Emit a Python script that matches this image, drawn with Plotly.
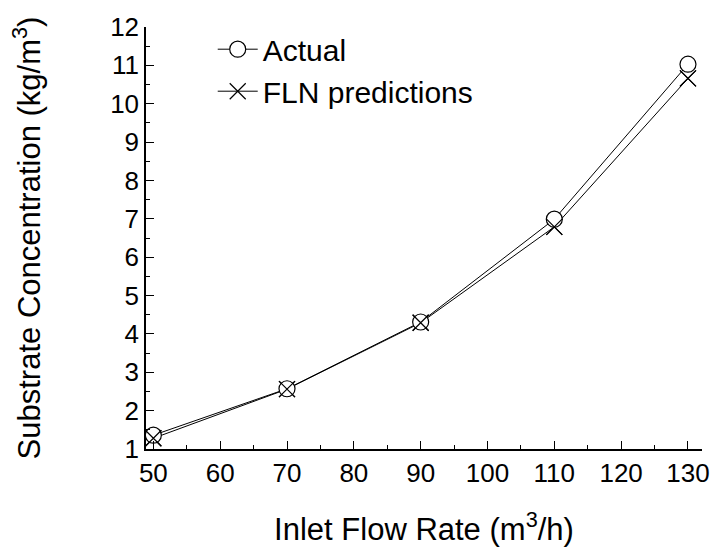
import plotly.graph_objects as go

flow = [50, 70, 90, 110, 130]
actual = [1.36, 2.57, 4.31, 6.99, 11.03]
fln = [1.28, 2.56, 4.29, 6.79, 10.66]
x_ticks = [50, 60, 70, 80, 90, 100, 110, 120, 130]
y_ticks = [1, 2, 3, 4, 5, 6, 7, 8, 9, 10, 11, 12]

FONT = "Liberation Sans, Arial, sans-serif"

fig = go.Figure()
fig.add_trace(go.Scatter(
    x=flow, y=fln, mode="lines+markers", name="FLN predictions",
    line=dict(color="black", width=1),
    marker=dict(symbol="x-thin-open", size=16, color="black", line=dict(color="black", width=1.2)),
    legendrank=2,
))
fig.add_trace(go.Scatter(
    x=flow, y=actual, mode="lines+markers", name="Actual",
    line=dict(color="black", width=1),
    marker=dict(symbol="circle", size=16, color="white", line=dict(color="black", width=1.2)),
    legendrank=1,
))
fig.add_trace(go.Scatter(
    x=flow, y=fln, mode="markers", showlegend=False, hoverinfo="skip",
    marker=dict(symbol="x-thin-open", size=16, color="black", line=dict(color="black", width=1.2)),
))

fig.update_layout(
    width=714, height=547,
    margin=dict(l=146, r=12, t=24, b=98),
    paper_bgcolor="white", plot_bgcolor="white",
    font=dict(family=FONT, color="black", size=26),
    legend=dict(
        x=0.12, y=1.009, xanchor="left", yanchor="top",
        bgcolor="rgba(0,0,0,0)", font=dict(size=30, family=FONT),
        itemwidth=40,
    ),
    xaxis=dict(
        range=[48.9, 132.1], tickvals=x_ticks, ticks="inside", ticklen=8, tickwidth=1.2,
        tickcolor="black", showline=True, linecolor="black", linewidth=1.5,
        showgrid=False, zeroline=False, tickfont=dict(size=26), automargin=False,
        minor=dict(dtick=5, ticks="inside", ticklen=4, tickcolor="black", tickwidth=1),
        title=dict(text="Inlet Flow Rate (m<sup>3</sup>/h)", font=dict(size=31), standoff=36),
    ),
    yaxis=dict(
        range=[1, 12], tickvals=y_ticks, ticks="inside", ticklen=8, tickwidth=1.2,
        tickcolor="black", showline=True, linecolor="black", linewidth=1.5,
        showgrid=False, zeroline=False, tickfont=dict(size=26),
        minor=dict(dtick=0.5, ticks="inside", ticklen=4, tickcolor="black", tickwidth=1),
        title=dict(text="Substrate Concentration (kg/m<sup>3</sup>)", font=dict(size=31), standoff=60),
    ),
)

fig.write_html("out.html")
